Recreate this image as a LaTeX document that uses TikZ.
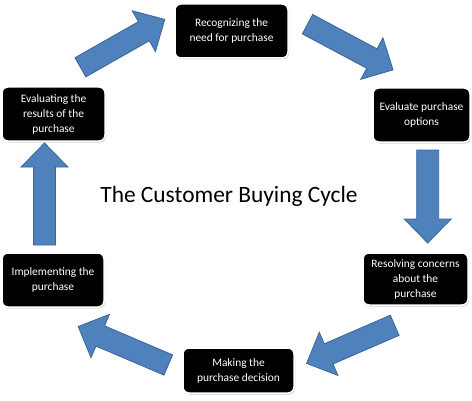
\documentclass[tikz,border=0pt]{standalone}
\usepackage{fontspec}
\setmainfont{Carlito}
\usetikzlibrary{shadows}
\definecolor{arrowblue}{HTML}{4F81BD}
\definecolor{arrowedge}{HTML}{3A6699}
\tikzset{
  stagebox/.style={fill=black, draw=white, line width=1.5pt, rounded corners=6pt,
    text=white, align=center, inner sep=2pt,
    font=\fontsize{11.4}{15}\selectfont,
    drop shadow={shadow xshift=1pt, shadow yshift=-1.5pt, opacity=0.35}},
  arrowsty/.style={fill=arrowblue, draw=arrowedge, line width=0.8pt, line join=miter},
}
\newcommand{\blockarr}[4]{%
  \begin{scope}[shift={(#1,#2)}, rotate=#3]
    \filldraw[arrowsty] (0,-11) -- ({#4-24},-11) -- ({#4-24},-23.5) -- (#4,0)
      -- ({#4-24},23.5) -- ({#4-24},11) -- (0,11) -- cycle;
  \end{scope}}
\begin{document}
\begin{tikzpicture}[x=1pt, y=1pt]
\useasboundingbox[fill=white] (0,0) rectangle (472,400);
% block arrows
\blockarr{80.4}{332.7}{29.6}{97}
\blockarr{307.5}{375.8}{-28.1}{97}
\blockarr{427.7}{250}{-90}{93}
\blockarr{394.7}{74.7}{203.4}{96}
\blockarr{168.3}{35}{156.9}{98}
\blockarr{44.5}{155}{90}{102}
% stages
\node[stagebox, minimum width=113pt, minimum height=54pt] (s1) at (231.5,369) {Recognizing the\\need for purchase};
\node[stagebox, minimum width=97pt, minimum height=54pt] (s2) at (421.5,285) {Evaluate purchase\\options};
\node[stagebox, minimum width=105pt, minimum height=52pt] (s3) at (415.5,121) {Resolving concerns\\about the\\purchase};
\node[stagebox, minimum width=111pt, minimum height=45pt] (s4) at (238.5,29.5) {Making the\\purchase decision};
\node[stagebox, minimum width=102pt, minimum height=54pt] (s5) at (53,120) {Implementing the\\purchase};
\node[stagebox, minimum width=103pt, minimum height=54pt] (s6) at (53.5,286) {Evaluating the\\results of the\\purchase};
% title
\node[anchor=base, font=\fontsize{23.4}{28}\selectfont, inner sep=0pt] (title) at (229,197) {The Customer Buying Cycle};
\end{tikzpicture}
\end{document}
